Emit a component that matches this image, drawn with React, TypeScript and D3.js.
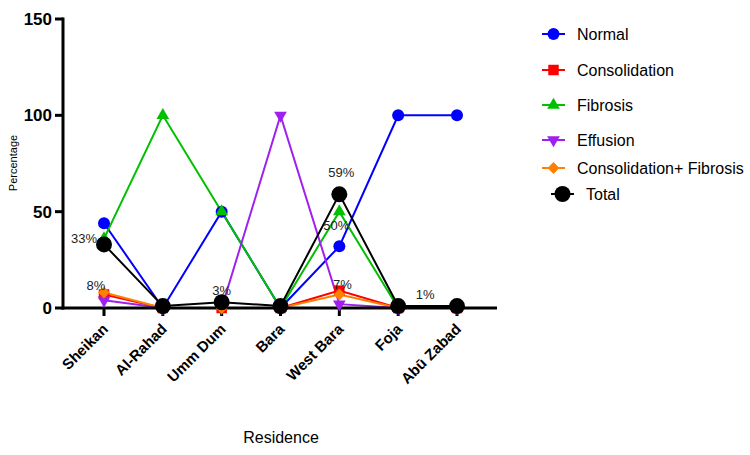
import React from "react";
import * as d3 from "d3";

const residences = ["Sheikan", "Al-Rahad", "Umm Dum", "Bara", "West Bara", "Foja", "Abū Zabad"];
const normal = [44, 0, 50, 0, 32, 100, 100];
const consolidation = [7, 0, 0, 0, 9, 0, 0];
const fibrosis = [36, 100, 50, 0, 50, 0, 0];
const effusion = [4, 0, 0, 100, 2, 0, 0];
const consFibrosis = [8, 0, 0, 0, 7, 0, 0];
const total = [33, 1, 3, 1, 59, 1, 1];
const yTicks = [0, 50, 100, 150];

type Shape = "circle" | "square" | "triangle" | "down" | "diamond" | "bigcircle";

const seriesList: { name: string; values: number[]; color: string; shape: Shape }[] = [
  { name: "Normal", values: normal, color: "#0000ff", shape: "circle" },
  { name: "Consolidation", values: consolidation, color: "#ff0000", shape: "square" },
  { name: "Fibrosis", values: fibrosis, color: "#00c000", shape: "triangle" },
  { name: "Effusion", values: effusion, color: "#a020f0", shape: "down" },
  { name: "Consolidation+ Fibrosis", values: consFibrosis, color: "#ff8000", shape: "diamond" },
  { name: "Total", values: total, color: "#000000", shape: "bigcircle" },
];

// value labels: [series, category index, text, dx, dy]
const valueLabels: [string, number, string, number, number][] = [
  ["Total", 0, "33%", -20, -1],
  ["Consolidation+ Fibrosis", 0, "8%", -8, -3],
  ["Total", 2, "3%", 0, -7],
  ["Total", 4, "59%", 2, -17],
  ["Fibrosis", 4, "50%", -3, 18],
  ["Consolidation+ Fibrosis", 4, "7%", 3, -6],
  ["Total", 5, "1%", 27, -7],
];

function Marker({ shape, x, y, color }: { shape: Shape; x: number; y: number; color: string }) {
  const sym = (type: d3.SymbolType, size: number) => (
    <path d={d3.symbol(type, size)() || ""} transform={`translate(${x},${y})`} fill={color} />
  );
  switch (shape) {
    case "circle":
      return <circle cx={x} cy={y} r={6} fill={color} />;
    case "bigcircle":
      return <circle cx={x} cy={y} r={8} fill={color} />;
    case "square":
      return sym(d3.symbolSquare, 110);
    case "triangle":
      return sym(d3.symbolTriangle, 70);
    case "down":
      return (
        <path d={d3.symbol(d3.symbolTriangle, 70)() || ""} transform={`translate(${x},${y}) rotate(180)`} fill={color} />
      );
    case "diamond":
      return (
        <path d={d3.symbol(d3.symbolSquare, 70)() || ""} transform={`translate(${x},${y}) rotate(45)`} fill={color} />
      );
  }
}

export default function App() {
  const width = 750;
  const height = 455;
  const axisX = 63;
  const axisY = 308;
  const x = d3
    .scalePoint<string>()
    .domain(residences)
    .range([104, 457]);
  const y = d3.scaleLinear().domain([0, 150]).range([axisY, 19]);
  const line = d3
    .line<number>()
    .x((_, i) => x(residences[i]) as number)
    .y((v) => y(v));
  const font = "Arial, 'Liberation Sans', Helvetica, sans-serif";
  const legendRows = [34, 70, 105, 140, 168, 194];

  return (
    <svg width={width} height={height} style={{ position: "absolute", left: 0, top: 0 }} fontFamily={font}>
      <rect width={width} height={height} fill="#fff" />
      {/* series lines */}
      {seriesList.map((s) => (
        <path key={s.name} d={line(s.values) || ""} fill="none" stroke={s.color} strokeWidth={2} />
      ))}
      {/* axes */}
      <line x1={axisX} x2={axisX} y1={y(150) - 1.5} y2={axisY + 1.5} stroke="#000" strokeWidth={3} />
      <line x1={axisX - 1.5} x2={497} y1={axisY} y2={axisY} stroke="#000" strokeWidth={3} />
      {yTicks.map((t) => (
        <g key={t}>
          <line x1={axisX - 8} x2={axisX} y1={y(t)} y2={y(t)} stroke="#000" strokeWidth={3} />
          <text x={axisX - 11} y={y(t)} dy="0.36em" textAnchor="end" fontSize={17} fontWeight="bold">
            {t}
          </text>
        </g>
      ))}
      {residences.map((r) => {
        const px = x(r) as number;
        return (
          <g key={r}>
            <line x1={px} x2={px} y1={axisY} y2={axisY + 8} stroke="#000" strokeWidth={3} />
            <text
              transform={`translate(${px + 5},${axisY + 22}) rotate(-45)`}
              textAnchor="end"
              fontSize={15}
              fontWeight="bold"
            >
              {r}
            </text>
          </g>
        );
      })}
      {/* markers */}
      {seriesList.map((s) =>
        s.values.map((v, i) => (
          <Marker key={s.name + i} shape={s.shape} x={x(residences[i]) as number} y={y(v)} color={s.color} />
        ))
      )}
      {/* value labels */}
      {valueLabels.map(([sn, i, txt, dx, dy], k) => {
        const s = seriesList.find((d) => d.name === sn)!;
        return (
          <text
            key={k}
            x={(x(residences[i]) as number) + dx}
            y={y(s.values[i]) + dy}
            textAnchor="middle"
            fontSize={13}
            fill="#222"
          >
            {txt}
          </text>
        );
      })}
      {/* axis titles */}
      <text transform="translate(17,163) rotate(-90)" textAnchor="middle" fontSize={11}>
        Percentage
      </text>
      <text x={281} y={443} textAnchor="middle" fontSize={16}>
        Residence
      </text>
      {/* legend */}
      {seriesList.map((s, i) => {
        const off = s.name === "Total" ? 9 : 0;
        const ly = legendRows[i];
        return (
          <g key={s.name}>
            <line x1={542 + off} x2={565 + off} y1={ly} y2={ly} stroke={s.color} strokeWidth={2} />
            <Marker shape={s.shape} x={553.5 + off} y={ly} color={s.color} />
            <text x={577 + off} y={ly} dy="0.36em" fontSize={16}>
              {s.name}
            </text>
          </g>
        );
      })}
    </svg>
  );
}
